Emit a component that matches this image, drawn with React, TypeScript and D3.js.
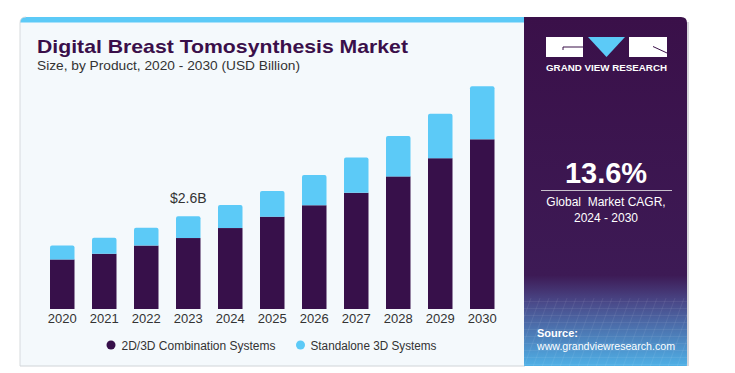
import React from "react";
import * as d3 from "d3";

const years = ["2020","2021","2022","2023","2024","2025","2026","2027","2028","2029","2030"];
const combo = [1.39,1.55,1.78,1.99,2.27,2.59,2.91,3.26,3.72,4.23,4.76];
const standalone = [0.39,0.45,0.50,0.61,0.65,0.72,0.85,0.99,1.13,1.25,1.49];
const seriesNames = ["2D/3D Combination Systems","Standalone 3D Systems"];
const colors = ["#37104a","#5ccaf7"];
const annotationYear = "2023";
const annotationText = "$2.6B";

export default function App() {
  const W = 735, H = 373;
  const baseY = 309;
  const x = d3.scaleBand().domain(years).range([29, 515.5]).paddingInner(0.4167).paddingOuter(0.5);
  const y = d3.scaleLinear().domain([0, 6.3]).range([baseY, baseY - 6.3 * 35.65]);
  const data = years.map((yr, i) => ({ year: yr, combo: combo[i], standalone: standalone[i] }));
  const stack = d3.stack<any>().keys(["combo", "standalone"])(data);
  const font = "'Liberation Sans', Arial, sans-serif";
  const annIdx = years.indexOf(annotationYear);
  const annTotal = combo[annIdx] + standalone[annIdx];

  return (
    <svg width={W} height={H} style={{ position: "absolute", left: 0, top: 0 }} fontFamily={font}>
      <defs>
        <linearGradient id="panelGrad" x1="0" y1="0" x2="0" y2="1">
          <stop offset="0" stopColor="#3a1049" />
          <stop offset="0.74" stopColor="#3d1a55" />
          <stop offset="0.82" stopColor="#4a4a8a" />
          <stop offset="1" stopColor="#4fb0e6" />
        </linearGradient>
        <pattern id="grid" width="9" height="7" patternUnits="userSpaceOnUse" patternTransform="skewX(-20)">
          <path d="M0 0 H9 M0 0 V7" stroke="#ffffff" strokeOpacity="0.18" strokeWidth="0.7" fill="none" />
        </pattern>
        <clipPath id="cardClip">
          <path d="M20 23 Q20 17 26 17 H525 V366 H20 Z" />
        </clipPath>
      </defs>
      {/* card */}
      <g clipPath="url(#cardClip)">
        <rect x={20} y={17} width={505} height={349} fill="#f4f9fc" />
        <rect x={20} y={17} width={505} height={5.5} fill="#5ccaf7" />
      </g>
      <path d="M20 23 Q20 17 26 17" fill="none" stroke="#d0d4d8" strokeWidth={0.8} />
      <line x1={20} y1={23} x2={20} y2={366} stroke="#d6dadd" strokeWidth={1} />
      <line x1={20} y1={366} x2={525} y2={366} stroke="#d0d4d8" strokeWidth={1} />
      {/* dark panel */}
      <path d="M524 17 H681 Q687 17 687 23 V366 H524 Z" fill="url(#panelGrad)" />
      <rect x={524} y={298} width={163} height={68} fill="url(#grid)" />
      <line x1={688} y1={22} x2={688} y2={366} stroke="#c9c9cf" strokeWidth={1.5} />

      {/* title */}
      <text x={37} y={53} fontSize={19} fontWeight={900} fill="#3a0f4a" textLength={371} lengthAdjust="spacingAndGlyphs"
        fontFamily="'Liberation Sans', Arial, sans-serif">Digital Breast Tomosynthesis Market</text>
      <text x={37} y={70} fontSize={13} fill="#333" textLength={263} lengthAdjust="spacingAndGlyphs">Size, by Product, 2020 - 2030 (USD Billion)</text>

      {/* bars */}
      {stack.map((s, si) => (
        <g key={si} fill={colors[si]}>
          {s.map((d, i) => {
            const xx = x(years[i])!;
            const y0 = y(d[0]), y1 = y(d[1]);
            if (si === 1) {
              const r = 2;
              const w = x.bandwidth();
              return <path key={i} d={`M${xx} ${y0} V${y1 + r} Q${xx} ${y1} ${xx + r} ${y1} H${xx + w - r} Q${xx + w} ${y1} ${xx + w} ${y1 + r} V${y0} Z`} />;
            }
            return <rect key={i} x={xx} y={y1} width={x.bandwidth()} height={y0 - y1} />;
          })}
        </g>
      ))}

      {/* annotation */}
      <text x={x(annotationYear)! + x.bandwidth() / 2} y={y(annTotal) - 13} fontSize={14} fill="#333" textAnchor="middle">{annotationText}</text>

      {/* x axis labels */}
      {years.map((yr) => (
        <text key={yr} x={x(yr)! + x.bandwidth() / 2} y={323} fontSize={13} fill="#333" textAnchor="middle">{yr}</text>
      ))}

      {/* legend */}
      <circle cx={111} cy={345} r={4.5} fill={colors[0]} />
      <text x={121.5} y={349.5} fontSize={12.5} fill="#333" textLength={154} lengthAdjust="spacingAndGlyphs">{seriesNames[0]}</text>
      <circle cx={300.5} cy={345} r={4.5} fill={colors[1]} />
      <text x={310.5} y={349.5} fontSize={12.5} fill="#333" textLength={126} lengthAdjust="spacingAndGlyphs">{seriesNames[1]}</text>

      {/* logo */}
      <rect x={546} y={37} width={37} height={20} fill="#ffffff" />
      <path d="M563 50 V47 H583" fill="none" stroke="#3a1049" strokeWidth={1} />
      <path d="M588 37 H625 L606.5 57 Z" fill="#5ccaf7" />
      <rect x={629} y={37} width={38} height={20} fill="#ffffff" />
      <path d="M653 46.5 L667 53" fill="none" stroke="#3a1049" strokeWidth={1} />
      <text x={606.5} y={71} fontSize={8.5} fontWeight="bold" fill="#ffffff" textAnchor="middle" textLength={121} lengthAdjust="spacingAndGlyphs">GRAND VIEW RESEARCH</text>

      {/* CAGR */}
      <text x={606} y={183} fontSize={29} fontWeight="bold" fill="#ffffff" textAnchor="middle">13.6%</text>
      <line x1={541} y1={190.5} x2={672} y2={190.5} stroke="#c8c0cc" strokeWidth={1} />
      <text x={606} y={206} fontSize={12} fill="#ffffff" textAnchor="middle" xmlSpace="preserve">Global  Market CAGR,</text>
      <text x={606} y={222} fontSize={12} fill="#ffffff" textAnchor="middle">2024 - 2030</text>

      {/* source */}
      <text x={537} y={337} fontSize={11} fontWeight="bold" fill="#ffffff">Source:</text>
      <text x={537} y={349.5} fontSize={11} fill="#ffffff" textLength={138} lengthAdjust="spacingAndGlyphs">www.grandviewresearch.com</text>
    </svg>
  );
}
